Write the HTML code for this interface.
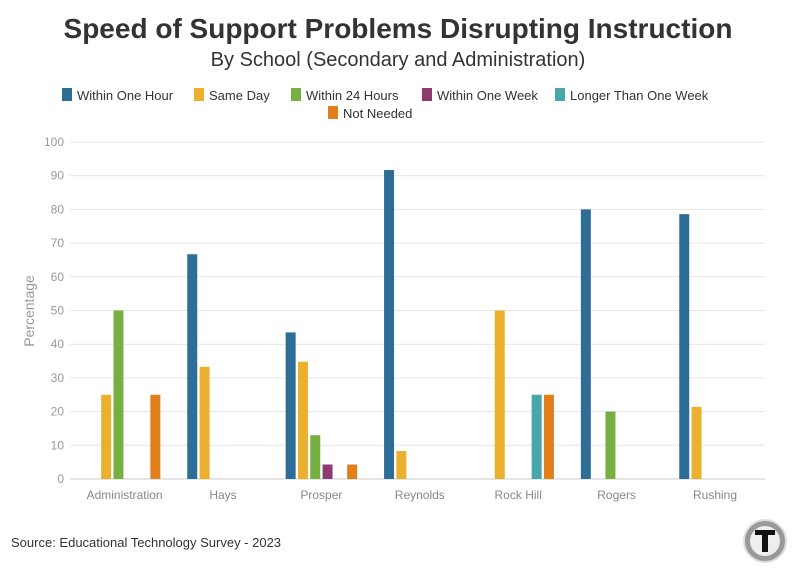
<!DOCTYPE html>
<html><head><meta charset="utf-8">
<style>
body{margin:0;background:#fff;font-family:"Liberation Sans",sans-serif;}
#wrap{position:relative;width:796px;height:575px;overflow:hidden;}
</style></head>
<body>
<div id="wrap">
<svg id="chart" width="796" height="575">
<text x="398" y="38" text-anchor="middle" font-size="28" font-weight="bold" fill="#333">Speed of Support Problems Disrupting Instruction</text>
<text x="398" y="66" text-anchor="middle" font-size="20" fill="#333">By School (Secondary and Administration)</text>
<text x="11" y="547" font-size="13" fill="#333">Source: Educational Technology Survey - 2023</text>
<g>
<circle cx="765" cy="541" r="21" fill="#999" stroke="#ddd" stroke-width="2"/>
<circle cx="765" cy="541" r="15" fill="#eee"/>
<rect x="755" y="530" width="20" height="5" fill="#111"/>
<rect x="762" y="530" width="6" height="22" fill="#111"/>
</g>
<g id="legend"></g>
<g id="grid"></g>
<g id="bars"></g>
<text transform="translate(34,311) rotate(-90)" text-anchor="middle" font-size="14" fill="#999">Percentage</text>
</svg>
</div>
<script>
const categories=["Administration","Hays","Prosper","Reynolds","Rock Hill","Rogers","Rushing"];
const seriesNames=["Within One Hour","Same Day","Within 24 Hours","Within One Week","Longer Than One Week","Not Needed"];
const withinOneHour=[0,66.7,43.5,91.7,0,80,78.6];
const sameDay=[25,33.3,34.8,8.3,50,0,21.4];
const within24Hours=[50,0,13,0,0,20,0];
const withinOneWeek=[0,0,4.3,0,0,0,0];
const longerThanOneWeek=[0,0,0,0,25,0,0];
const notNeeded=[25,0,4.3,0,25,0,0];
const yTicks=[0,10,20,30,40,50,60,70,80,90,100];
const series=[withinOneHour,sameDay,within24Hours,withinOneWeek,longerThanOneWeek,notNeeded];
const colors=["#2e6e96","#ebb02d","#76b043","#8e3a72","#46a8a8","#e07f1c"];
const NS="http://www.w3.org/2000/svg";
const x0=70,x1=765,yTop=142,yBot=479;
const y=v=>yBot-(v/100)*(yBot-yTop);
const gw=98.4;
const xc=i=>124.6+gw*i;
function mk(tag,attrs,parent){const e=document.createElementNS(NS,tag);for(const k in attrs)e.setAttribute(k,attrs[k]);parent.appendChild(e);return e;}
const grid=document.getElementById('grid');
yTicks.forEach(t=>{
  const l=mk('line',{x1:x0,x2:x1,y1:y(t),y2:y(t),stroke:t===0?'#ccc':'#e6e6e6','stroke-width':1},grid);
  
  
  const tx=mk('text',{x:64,y:y(t)+4,'text-anchor':'end','font-size':12,fill:'#999'},grid);
  tx.textContent=t;
  
  
});
categories.forEach((c,i)=>{
  const tx=mk('text',{x:xc(i),y:499,'text-anchor':'middle','font-size':12,fill:'#888'},grid);
  tx.textContent=c;
  
  
});
const bars=document.getElementById('bars');
series.forEach((s,si)=>{
  s.forEach((v,ci)=>{
    if(v<=0)return;
    const cx=xc(ci)+(si-2.5)*12.3;
    const r=mk('rect',{x:cx-5,y:y(v),width:10,height:yBot-y(v),fill:colors[si]},bars);
    
    
  });
});
const lg=document.getElementById('legend');
const row1=[[62,0],[194,1],[291,2],[422,3],[555,4]];
const items=row1.map(([x,i])=>[x,100,i]).concat([[328,118,5]]);
items.forEach(([x,yy,i])=>{
  const g=mk('g',{},lg);
  
  
  mk('rect',{x:x,y:yy-12,width:10,height:13,fill:colors[i]},g);
  const t=mk('text',{x:x+15,y:yy,'font-size':13,fill:'#333'},g);
  t.textContent=seriesNames[i];
});
</script>
</body></html>
